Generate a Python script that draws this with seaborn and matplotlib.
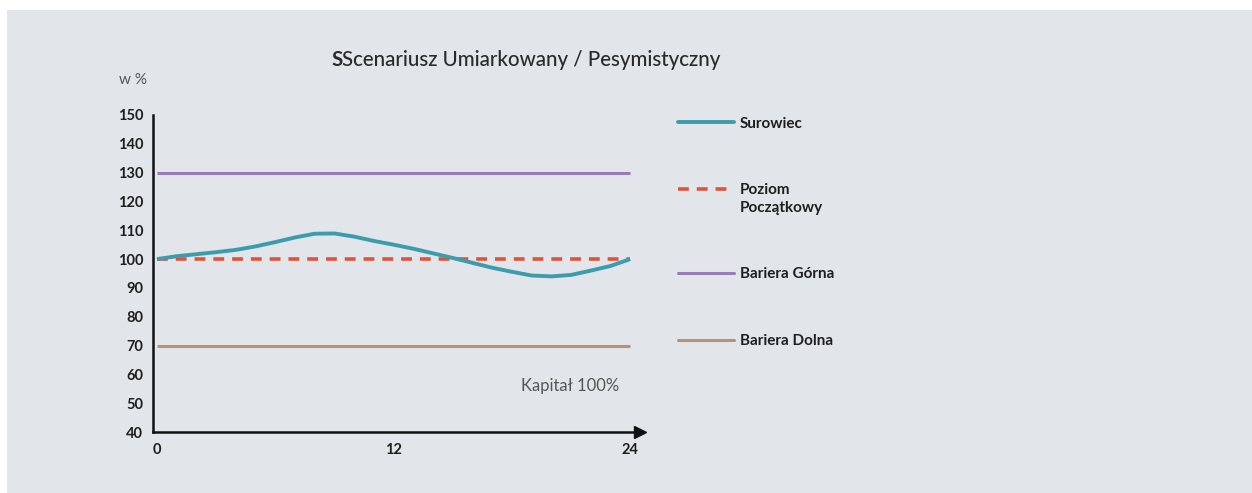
import numpy as np
import pandas as pd
import matplotlib
matplotlib.use("Agg")
import matplotlib.pyplot as plt
import seaborn as sns
from matplotlib.patches import Rectangle

# dane
months = list(range(25))
surowiec = [100, 101, 101.7, 102.4, 103.2, 104.4, 105.9, 107.5, 108.8, 108.9,
            107.8, 106.3, 105.0, 103.6, 102.0, 100.4, 98.7, 97.0, 95.6, 94.3,
            94.0, 94.5, 96.0, 97.6, 100.0]
poziom_poczatkowy = 100
bariera_gorna = 130
bariera_dolna = 70

labels = ["Surowiec", "Poziom\nPoczątkowy", "Bariera Górna", "Bariera Dolna"]
colors = ["#3d9cab", "#e0533a", "#9a7cb6", "#b8917a"]
yticks = list(range(40, 151, 10))
xticks = [0, 12, 24]

df = pd.DataFrame({
    "miesiac": months * 4,
    "wartosc": surowiec + [poziom_poczatkowy] * 25 + [bariera_gorna] * 25 + [bariera_dolna] * 25,
    "seria": sum([[l] * 25 for l in labels], []),
})

sns.set_style("white")
plt.rcParams["font.family"] = ["Lato", "DejaVu Sans"]

fig = plt.figure(figsize=(12.52, 4.93), dpi=100, facecolor="white")
bg = "#e2e6ea"
fig.patches.append(Rectangle((7 / 1252, 0), 1, 1 - 10 / 493, transform=fig.transFigure,
                             facecolor=bg, edgecolor="none", zorder=-10))

ax = fig.add_axes([153 / 1252, 61 / 493, 487 / 1252, 317 / 493])
ax.set_facecolor("none")

sns.lineplot(data=df, x="miesiac", y="wartosc", hue="seria", style="seria",
             hue_order=labels, style_order=labels, palette=colors,
             dashes={labels[0]: "", labels[1]: (3, 2.2), labels[2]: "", labels[3]: ""},
             ax=ax, legend=False)
widths = [2.8, 2.6, 2.2, 2.2]
for line, w in zip(ax.get_lines(), widths):
    line.set_linewidth(w)
    line.set_solid_capstyle("butt")
ax.get_lines()[0].set_zorder(3)

ax.set_xlim(-0.2, 24.5)
ax.set_ylim(40, 150)
ax.set_yticks(yticks)
ax.set_xticks(xticks)
ax.set_xlabel("")
ax.set_ylabel("")
for s in ["top", "right"]:
    ax.spines[s].set_visible(False)
for s in ["left", "bottom"]:
    ax.spines[s].set_color("#111111")
    ax.spines[s].set_linewidth(1.8)
ax.tick_params(axis="both", which="both", direction="out", length=4, width=1.5,
               color="#111111", labelsize=10.5, labelcolor="#1e1e1e", pad=3)
ax.tick_params(axis="x", pad=4)
for t in ax.get_xticklabels() + ax.get_yticklabels():
    t.set_fontweight("bold")
# strzałka na osi X
ax.plot(1, 40, ">", color="#111111", markersize=8, transform=ax.get_yaxis_transform(),
        clip_on=False)

# legenda
handles = [plt.Line2D([], [], color=c, lw=w, ls=ls) for c, w, ls in
           zip(colors, widths, ["-", (0, (3, 2.2)), "-", "-"])]
leg = fig.legend(handles, labels, loc="upper left", bbox_to_anchor=(664 / 1252, 1 - 103 / 493),
                 frameon=False, handlelength=3.7, handletextpad=0.35, labelspacing=3.45,
                 prop={"size": 11, "weight": "bold"})
for t in leg.get_texts():
    t.set_color("#1e1e1e")
    t.set_linespacing(1.3)
# uchwyt "Poziom Początkowy" na wysokości pierwszej linii
h = leg.legend_handles[1]
h.set_ydata(np.asarray(h.get_ydata()) + 7.5)

t1 = fig.text(331 / 1252, 1 - 60 / 493, "S", ha="left", va="center", fontsize=14.8,
              color="#2a2a2a", fontweight="bold")
ax.annotate("Scenariusz Umiarkowany / Pesymistyczny", xy=(1, 0.5), xycoords=t1,
            ha="left", va="center", fontsize=14.8, color="#2a2a2a", fontweight="medium")
fig.text(133 / 1252, 1 - 80 / 493, "w %", ha="center", va="center", fontsize=11,
         color="#555555")
ax.text(20.95, 56, "Kapitał 100%", ha="center", va="center", fontsize=12, color="#555555")

fig.savefig("out.png", dpi=100, facecolor=fig.get_facecolor())
